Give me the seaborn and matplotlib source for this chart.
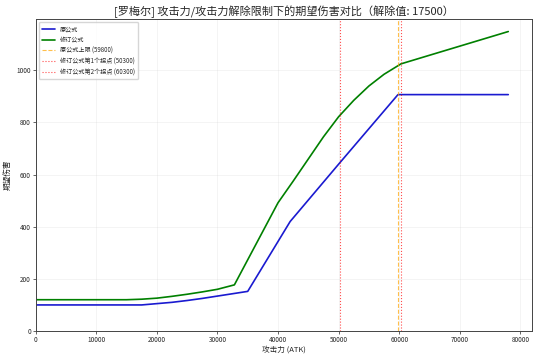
import matplotlib
matplotlib.use("Agg")
import matplotlib.pyplot as plt
import seaborn as sns
import pandas as pd

# data
old_atk = [0, 17500, 20000, 22500, 25000, 27500, 30000, 32500, 35000, 42000, 50000, 59800, 78000]
old_dmg = [100, 100, 105, 110, 117, 125, 134, 143, 152, 420, 640, 907, 907]

new_atk = [0, 15000, 17500, 20000, 22500, 25000, 27500, 30000, 32800, 40000, 42500, 45000,
           47500, 50000, 52500, 55000, 57500, 60300, 65000, 70000, 75000, 78000]
new_dmg = [120, 120, 122, 126, 133, 141, 150, 160, 177, 492, 575, 660,
           745, 822, 885, 940, 985, 1025, 1058, 1093, 1128, 1149]

old_cap = 59800
new_kink1 = 50300
new_kink2 = 60300

title = "[罗梅尔] 攻击力/攻击力解除限制下的期望伤害对比（解除值: 17500）"
xlabel = "攻击力 (ATK)"
ylabel = "期望伤害"
labels = ["原公式", "修订公式", "原公式上限 (59800)", "修订公式第1个拐点 (50300)", "修订公式第2个拐点 (60300)"]

sns.set_style("ticks")
plt.rcParams['font.family'] = ['Noto Sans CJK SC', 'DejaVu Sans']
plt.rcParams['axes.unicode_minus'] = False

fig = plt.figure(figsize=(5.4, 3.59), dpi=100)
ax = fig.add_axes([0.066, 0.078, 0.919, 0.869])

df_old = pd.DataFrame({"atk": old_atk, "dmg": old_dmg})
df_new = pd.DataFrame({"atk": new_atk, "dmg": new_dmg})
sns.lineplot(data=df_old, x="atk", y="dmg", ax=ax, color="#1a1ad0", linewidth=1.2, label=labels[0])
sns.lineplot(data=df_new, x="atk", y="dmg", ax=ax, color="green", linewidth=1.2, label=labels[1])

ax.axvline(old_cap, color="orange", linestyle="--", linewidth=0.8, alpha=0.7, label=labels[2])
ax.axvline(new_kink1, color="red", linestyle=":", linewidth=0.8, alpha=0.7, label=labels[3])
ax.axvline(new_kink2, color="red", linestyle=":", linewidth=0.8, alpha=0.7, label=labels[4])

ax.set_xlim(0, 81900)
ax.set_ylim(0, 1197)

ax.grid(True, alpha=0.3, linewidth=0.5)
for s in ax.spines.values():
    s.set_color("#444444")
    s.set_linewidth(0.7)
ax.tick_params(labelsize=4.6, length=2, width=0.5, pad=1.5)
ax.set_title(title, fontsize=8, pad=3)
ax.set_xlabel(xlabel, fontsize=5.5, labelpad=1.5)
ax.set_ylabel(ylabel, fontsize=5.5, labelpad=3)
ax.legend(loc="upper left", fontsize=4.4, frameon=True, handlelength=2.2, borderpad=0.5, labelspacing=0.45)

fig.savefig("out.png", dpi=100)
